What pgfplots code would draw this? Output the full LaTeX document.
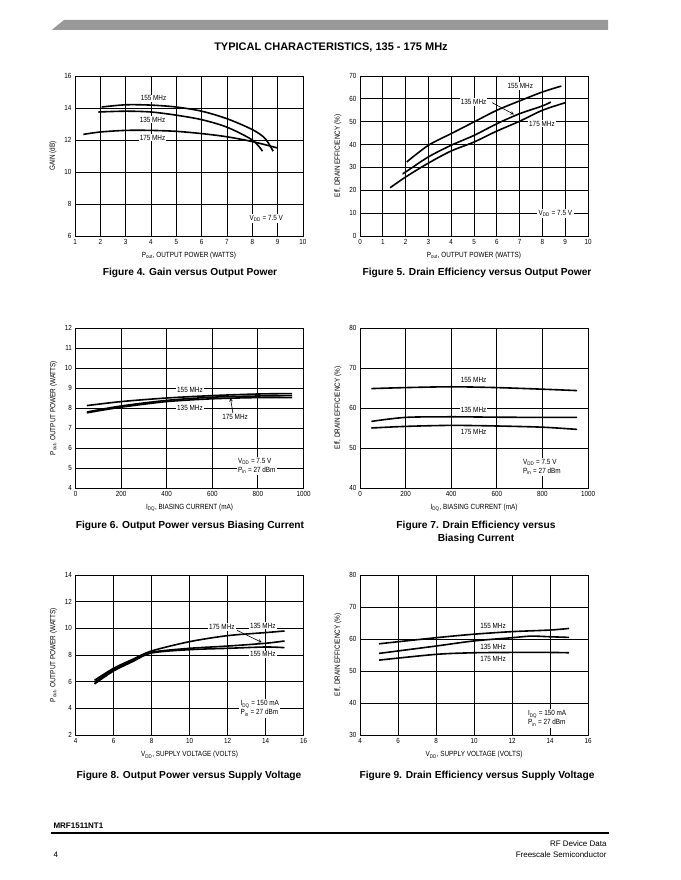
\documentclass[border=0pt]{standalone}
\usepackage{fontspec}
\setmainfont{Liberation Sans}
\newfontfamily\narrowfont{Liberation Sans}[FakeStretch=0.85]
\usepackage{pgfplots}
\pgfplotsset{compat=1.18}
\tikzset{
  lbl/.style={fill=white, inner sep=1pt, font=\narrowfont\fontsize{7.5}{9}\selectfont},
  lbl2/.style={fill=white, inner sep=1.5pt, align=left, font=\narrowfont\fontsize{7.5}{9}\selectfont},
  arr/.style={-stealth, line width=0.6pt, black}
}
\pgfplotsset{ds/.style={
  scale only axis, width=228pt, height=160pt, anchor=south west,
  grid=major, major grid style={black, line width=0.9pt},
  axis line style={line width=0.9pt},
  major tick length=0pt, tick style={draw=none},
  /pgf/number format/assume math mode=true,
  /pgf/number format/1000 sep={},
  tick label style={font=\narrowfont\fontsize{7.4}{8}\selectfont},
  label style={font=\narrowfont\fontsize{7.5}{9}\selectfont},
  xlabel style={at={([yshift=-20pt]axis description cs:0.5,0)}, anchor=center},
  ylabel style={at={([xshift=-22pt]axis description cs:0,0.5)}, anchor=center},
  no markers,
  cycle list={{black, mark=none}},
  every axis plot post/.append style={line width=1.6pt, black, mark=none, smooth}
}}
\begin{document}
\begin{tikzpicture}
\fill[white] (0pt,0pt) rectangle (680pt,880pt);
% header
\fill[black!40] (51.7pt,850pt) -- (64pt,860pt) -- (608pt,860pt) -- (608pt,850pt) -- cycle;
\node[font=\bfseries\fontsize{11}{13}\selectfont] at (331pt,832pt) {TYPICAL CHARACTERISTICS, 135 - 175 MHz};

% ---------- Figure 4
\begin{axis}[ds, at={(75pt,644pt)}, xmin=1, xmax=10, ymin=6, ymax=16,
  xtick={1,...,10}, ytick={6,8,...,16},
  xlabel={P\textsubscript{out}, OUTPUT POWER (WATTS)}, ylabel={GAIN (dB)}]
\addplot coordinates {(2.05,14.06) (3,14.2) (4,14.18) (5,14.06) (6,13.8) (7,13.33) (8,12.65) (8.5,12.1) (8.82,11.3)};
\addplot coordinates {(1.92,13.75) (3,13.8) (4,13.75) (5,13.55) (6,13.27) (7,12.8) (8,12.0) (8.4,11.3)};
\addplot coordinates {(1.33,12.35) (2,12.5) (3,12.6) (4,12.6) (5,12.54) (6,12.4) (7,12.2) (8,11.9) (9,11.5)};
\node[lbl] at (axis cs:4.1,14.6) {155 MHz};
\node[lbl] at (axis cs:4.06,13.27) {135 MHz};
\node[lbl] at (axis cs:4.06,12.15) {175 MHz};
\node[lbl2] at (axis cs:8.55,7.08) {V\textsubscript{DD} = 7.5 V};
\end{axis}

% ---------- Figure 5
\begin{axis}[ds, at={(360pt,644pt)}, xmin=0, xmax=10, ymin=0, ymax=70,
  xtick={0,...,10}, ytick={0,10,...,70},
  xlabel={P\textsubscript{out}, OUTPUT POWER (WATTS)}, ylabel={Eff, DRAIN EFFICIENCY (\%)}]
\addplot coordinates {(2.05,32.4) (3,39.7) (4,44.8) (5,49.9) (6,55) (7,59.1) (8,63) (8.83,65.6)};
\addplot coordinates {(1.87,27.3) (2,28) (3,34.6) (4,39.7) (5,44) (6,49.1) (7,53.5) (8,56.9) (8.37,58.6)};
\addplot coordinates {(1.32,21.1) (2,25.8) (3,31.9) (4,37.2) (5,41.1) (6,45.9) (7,50.2) (8,55) (9,58.3)};
\draw[arr] (axis cs:5.8,58.3) -- (axis cs:6.75,53.2);
\node[lbl] at (axis cs:7.03,65.6) {155 MHz};
\node[lbl] at (axis cs:4.98,58.6) {135 MHz};
\node[lbl] at (axis cs:7.98,49.1) {175 MHz};
\node[lbl2] at (axis cs:8.57,9.8) {V\textsubscript{DD} = 7.5 V};
\end{axis}

% ---------- Figure 6
\begin{axis}[ds, at={(75.5pt,392pt)}, xmin=0, xmax=1000, ymin=4, ymax=12,
  xtick={0,200,...,1000}, ytick={4,...,12},
  xlabel={I\textsubscript{DQ}, BIASING CURRENT (mA)}, ylabel={P\textsubscript{out}, OUTPUT POWER (WATTS)}]
\addplot coordinates {(50,8.12) (200,8.32) (400,8.5) (600,8.62) (800,8.7) (950,8.72)};
\addplot coordinates {(50,7.76) (200,8.04) (400,8.32) (600,8.46) (800,8.52) (950,8.52)};
\addplot coordinates {(50,7.8) (200,8.1) (400,8.38) (600,8.54) (800,8.6) (950,8.62)};
\draw[arr] (axis cs:690,7.75) -- (axis cs:680,8.5);
\node[lbl] at (axis cs:502,8.92) {155 MHz};
\node[lbl] at (axis cs:502,8.0) {135 MHz};
\node[lbl] at (axis cs:700,7.54) {175 MHz};
\node[lbl2] at (axis cs:795,5.1) {V\textsubscript{DD} = 7.5 V\\P\textsubscript{in} = 27 dBm};
\end{axis}

% ---------- Figure 7
\begin{axis}[ds, at={(360pt,392pt)}, xmin=0, xmax=1000, ymin=40, ymax=80,
  xtick={0,200,...,1000}, ytick={40,50,...,80},
  xlabel={I\textsubscript{DQ}, BIASING CURRENT (mA)}, ylabel={Eff, DRAIN EFFICIENCY (\%)}]
\addplot coordinates {(50,64.85) (200,65.1) (400,65.3) (600,65.1) (800,64.7) (952,64.35)};
\addplot coordinates {(50,56.65) (200,57.65) (400,57.8) (600,57.7) (800,57.65) (952,57.65)};
\addplot coordinates {(50,55.0) (200,55.4) (400,55.65) (600,55.5) (800,55.2) (952,54.65)};
\node[lbl] at (axis cs:498,66.95) {155 MHz};
\node[lbl] at (axis cs:498,59.4) {135 MHz};
\node[lbl] at (axis cs:498,54.0) {175 MHz};
\node[lbl2] at (axis cs:798,45.3) {V\textsubscript{DD} = 7.5 V\\P\textsubscript{in} = 27 dBm};
\end{axis}

% ---------- Figure 8
\begin{axis}[ds, at={(75.5pt,145pt)}, xmin=4, xmax=16, ymin=2, ymax=14,
  xtick={4,6,...,16}, ytick={2,4,...,14},
  xlabel={V\textsubscript{DD}, SUPPLY VOLTAGE (VOLTS)}, ylabel={P\textsubscript{out}, OUTPUT POWER (WATTS)}]
\addplot coordinates {(5,6.1) (6,7.0) (7,7.67) (8,8.3) (10,9.0) (12,9.45) (14,9.68) (15,9.8)};
\addplot coordinates {(5,5.95) (6,6.9) (7,7.57) (8,8.2) (10,8.5) (12,8.67) (14,8.88) (15,9.05)};
\addplot coordinates {(5,5.83) (6,6.8) (7,7.5) (8,8.15) (10,8.4) (12,8.5) (14,8.6) (15,8.55)};
\draw[arr] (axis cs:12.5,9.85) -- (axis cs:13.8,8.95);
\node[lbl] at (axis cs:11.7,10.1) {175 MHz};
\node[lbl] at (axis cs:13.86,10.2) {135 MHz};
\node[lbl] at (axis cs:13.86,8.05) {155 MHz};
\node[lbl2] at (axis cs:13.7,4.0) {I\textsubscript{DQ} = 150 mA\\P\textsubscript{in} = 27 dBm};
\end{axis}

% ---------- Figure 9
\begin{axis}[ds, at={(360pt,145pt)}, xmin=4, xmax=16, ymin=30, ymax=80,
  xtick={4,6,...,16}, ytick={30,40,...,80},
  xlabel={V\textsubscript{DD}, SUPPLY VOLTAGE (VOLTS)}, ylabel={Eff, DRAIN EFFICIENCY (\%)}]
\addplot coordinates {(5,58.5) (8,60.4) (10,61.5) (12,62.3) (14,62.8) (15,63.3)};
\addplot coordinates {(5,55.5) (8,57.8) (10,59.4) (12,60.4) (13,60.9) (14,60.7) (15,60.5)};
\addplot coordinates {(5,53.4) (8,55.2) (10,55.7) (12,55.8) (14,55.8) (15,55.7)};
\node[lbl] at (axis cs:11,64.1) {155 MHz};
\node[lbl] at (axis cs:11,57.6) {135 MHz};
\node[lbl] at (axis cs:11,53.75) {175 MHz};
\node[lbl2] at (axis cs:13.85,35.2) {I\textsubscript{DQ} = 150 mA\\P\textsubscript{in} = 27 dBm};
\end{axis}

% captions
\begin{scope}[every node/.style={font=\bfseries\fontsize{10.2}{13}\selectfont}]
\node at (190pt,607pt) {Figure 4. Gain versus Output Power};
\node at (477pt,607pt) {Figure 5. Drain Efficiency versus Output Power};
\node at (190pt,354pt) {Figure 6. Output Power versus Biasing Current};
\node[align=center] at (476pt,347.5pt) {Figure 7. Drain Efficiency versus\\Biasing Current};
\node at (189pt,104.5pt) {Figure 8. Output Power versus Supply Voltage};
\node at (477pt,104.5pt) {Figure 9. Drain Efficiency versus Supply Voltage};
\end{scope}

% footer
\node[anchor=west, font=\bfseries\fontsize{8}{10}\selectfont] at (50pt,54pt) {MRF1511NT1};
\draw[line width=1.5pt] (51pt,47pt) -- (609pt,47pt);
\node[anchor=east, font=\fontsize{8}{10}\selectfont] at (610pt,36pt) {RF Device Data};
\node[anchor=west, font=\fontsize{8}{10}\selectfont] at (50pt,25pt) {4};
\node[anchor=east, font=\fontsize{8}{10}\selectfont] at (610pt,25pt) {Freescale Semiconductor};
\end{tikzpicture}
\end{document}
